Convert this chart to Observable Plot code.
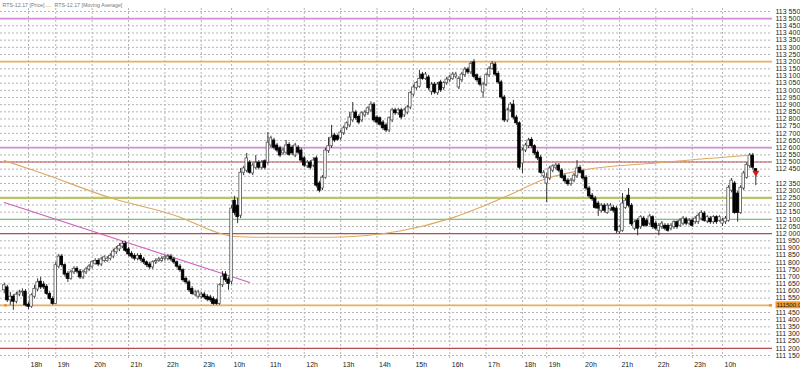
<!DOCTYPE html>
<html><head><meta charset="utf-8">
<script src="https://cdn.jsdelivr.net/npm/d3@7"></script>
<script src="https://cdn.jsdelivr.net/npm/@observablehq/plot@0.6"></script>
<style>body{margin:0;background:#fff}svg{display:block}</style>
</head><body><div id="chart"></div>
<script>
// ---- data: 5-minute candles, slot index 0..248 ----
const openP = [111605,111625,111535,111560,111525,111575,111590,111595,111505,111490,111560,111610,111665,111645,111630,111580,111545,111510,111770,111840,111780,111720,111685,111730,111755,111735,111695,111730,111750,111770,111790,111810,111785,111810,111810,111825,111840,111870,111890,111910,111930,111890,111860,111845,111825,111845,111820,111800,111785,111765,111800,111810,111810,111825,111825,111840,111820,111800,111770,111745,111685,111660,111615,111575,111560,111560,111575,111560,111555,111545,111535,111510,111640,111715,111680,111665,112230,112195,112125,112425,112440,112495,112420,112460,112495,112460,112505,112495,112615,112650,112615,112595,112560,112565,112620,112600,112545,112600,112580,112525,112470,112495,112475,112525,112350,112315,112390,112575,112610,112685,112680,112665,112700,112735,112755,112790,112845,112815,112790,112825,112840,112860,112900,112810,112805,112775,112755,112720,112790,112860,112840,112860,112825,112845,112880,112970,113015,113025,113110,113080,113090,112990,113040,112980,113055,113015,113050,113070,113080,113095,113020,113070,113105,113145,113125,113195,113105,113080,112985,113040,113105,113150,113180,113115,113055,112950,112790,112860,112900,112810,112770,112490,112580,112610,112655,112610,112565,112530,112400,112350,112385,112440,112460,112475,112440,112400,112370,112345,112370,112400,112460,112435,112390,112315,112265,112245,112210,112160,112195,112145,112170,112180,112175,112010,112020,112180,112265,112195,112035,112090,112045,112105,112090,112070,112115,112070,112020,112045,112055,112055,112035,112045,112080,112055,112070,112100,112070,112090,112080,112080,112105,112140,112085,112105,112080,112115,112090,112070,112080,112090,112300,112350,112280,112145,112315,112390,112470,112545,112450];
const highP = [111655,111640,111590,111575,111590,111605,111615,111610,111520,111580,111640,111685,111695,111665,111645,111595,111560,111800,111855,111855,111790,111735,111745,111770,111770,111750,111745,111765,111785,111810,111825,111825,111835,111845,111840,111860,111890,111910,111930,111945,111945,111905,111875,111860,111860,111860,111835,111810,111800,111810,111825,111835,111840,111845,111855,111855,111835,111810,111785,111755,111700,111675,111630,111605,111605,111590,111590,111575,111570,111560,111545,111650,111735,111735,111695,112195,112260,112245,112455,112470,112560,112510,112490,112545,112510,112510,112515,112705,112680,112665,112630,112610,112595,112650,112635,112615,112630,112615,112595,112540,112510,112510,112530,112540,112365,112405,112595,112670,112755,112700,112690,112720,112750,112780,112845,112915,112860,112830,112850,112860,112885,112920,112915,112825,112815,112790,112770,112815,112875,112875,112875,112875,112875,112895,112990,113035,113060,113140,113125,113125,113105,113055,113055,113055,113070,113060,113090,113105,113125,113125,113095,113125,113160,113160,113200,113215,113115,113095,113055,113115,113165,113200,113195,113130,113070,112965,112875,112915,112930,112825,112780,112595,112630,112665,112670,112620,112580,112545,112440,112420,112470,112480,112490,112490,112455,112415,112385,112385,112420,112510,112475,112445,112405,112330,112280,112260,112225,112210,112210,112210,112210,112195,112190,112055,112280,112245,112315,112210,112090,112105,112125,112120,112105,112135,112125,112085,112070,112085,112070,112070,112070,112090,112090,112105,112120,112115,112105,112105,112120,112140,112160,112155,112125,112120,112125,112125,112125,112105,112120,112335,112385,112365,112295,112335,112435,112495,112560,112560,112455];
const lowP = [111580,111520,111500,111465,111510,111560,111560,111490,111470,111480,111545,111595,111610,111610,111570,111535,111500,111505,111755,111765,111700,111660,111675,111715,111720,111680,111680,111715,111735,111755,111780,111770,111770,111800,111800,111810,111825,111855,111875,111895,111870,111840,111825,111810,111810,111805,111785,111765,111750,111750,111785,111800,111800,111810,111810,111805,111785,111755,111730,111660,111645,111590,111570,111560,111545,111545,111540,111525,111520,111500,111500,111500,111625,111660,111605,111645,112125,112070,112105,112405,112425,112415,112405,112445,112445,112445,112445,112480,112600,112585,112565,112530,112545,112550,112540,112545,112530,112550,112495,112460,112455,112445,112460,112320,112285,112300,112380,112560,112595,112635,112645,112650,112685,112720,112740,112775,112790,112760,112775,112810,112825,112845,112775,112760,112750,112720,112705,112705,112775,112825,112825,112795,112810,112830,112865,112955,113000,113015,113070,113070,113000,112965,112970,112965,112985,113000,113035,113055,113070,113080,113005,113055,113090,113110,113110,113080,113055,113025,112945,113025,113090,113140,113095,113040,112935,112775,112775,112845,112795,112755,112445,112420,112565,112595,112595,112545,112510,112415,112385,112215,112370,112425,112445,112425,112380,112350,112330,112330,112355,112385,112415,112370,112300,112245,112225,112170,112120,112145,112145,112135,112155,112145,112000,111995,112010,112170,112180,112050,112020,111985,112030,112045,112045,112055,112030,112020,111985,112030,112020,112010,112020,112030,112030,112045,112055,112055,112055,112045,112065,112065,112090,112080,112070,112065,112065,112065,112080,112050,112065,112080,112285,112135,112080,112135,112300,112380,112455,112445,112335];
const closeP = [111640,111535,111560,111525,111575,111590,111595,111500,111490,111570,111615,111660,111625,111625,111580,111545,111510,111780,111840,111780,111715,111685,111730,111755,111735,111695,111730,111750,111770,111800,111810,111785,111820,111835,111825,111845,111875,111895,111915,111930,111880,111855,111840,111825,111845,111820,111800,111780,111765,111800,111810,111820,111825,111835,111840,111820,111800,111770,111745,111675,111660,111605,111580,111590,111590,111575,111555,111540,111535,111510,111510,111640,111700,111675,111650,112175,112145,112115,112425,112455,112525,112425,112475,112495,112460,112495,112460,112635,112665,112600,112580,112545,112580,112615,112550,112560,112615,112565,112510,112475,112495,112460,112510,112335,112300,112390,112580,112610,112670,112650,112655,112705,112735,112770,112810,112845,112805,112775,112840,112845,112875,112900,112790,112775,112760,112735,112720,112805,112860,112840,112860,112810,112860,112880,112980,113020,113050,113080,113080,113110,113015,113040,112985,113040,113000,113050,113075,113090,113110,113110,113080,113110,113145,113125,113185,113095,113070,113040,113040,113105,113150,113185,113110,113055,112950,112790,112860,112900,112810,112770,112460,112580,112615,112650,112610,112560,112525,112425,112425,112390,112455,112470,112475,112440,112390,112365,112345,112370,112405,112455,112425,112385,112315,112260,112240,112180,112175,112195,112160,112195,112195,112160,112020,112045,112210,112230,112195,112065,112080,112035,112115,112055,112055,112120,112045,112035,112055,112070,112035,112020,112055,112080,112045,112090,112105,112070,112090,112055,112105,112125,112145,112090,112115,112080,112115,112080,112115,112090,112105,112320,112370,112145,112145,112320,112420,112480,112545,112460,112425];

// moving average, read at sparse points (slot, price)
const maSlot  = [0, 12, 35, 58, 70, 76, 85, 108, 131, 147, 164, 179, 190, 216, 245];
const maPrice = [112510,112425,112250,112115,112010,111980,111975,111975,112020,112105,112245,112385,112440,112495,112545];

// descending trend line (slot, price)
const trendSlot  = [0, 81];
const trendPrice = [112217, 111660];

// horizontal levels
const levels = [113500, 113200, 112600, 112500, 112250, 112100, 112000, 111500, 111200];
const levelKinds = ["violet","orange","violet","red","olive","green","red","orange","red"];

// hour ticks (slot of first candle in the hour) and labels
const hourSlots  = [8,17,29,41,53,65,75,87,99,111,123,135,147,159,171,179,191,203,215,227,237];
const hourLabels = ["18h","19h","20h","21h","22h","23h","10h","11h","12h","13h","14h","15h","16h","17h","18h","19h","20h","21h","22h","23h","10h"];

const lastSlot = 248;
const boxPrice = 111500;

// ---- styles ----
const kindStyle = {
  violet: {stroke: "#d28fd8", w: 1.6},
  orange: {stroke: "#eab060", w: 1.6},
  red:    {stroke: "#b85050", w: 1.2},
  olive:  {stroke: "#b9c46a", w: 2.2},
  green:  {stroke: "#6fcf6f", w: 1.2}
};

const candles = closeP.map((c, i) => ({i, o: openP[i], h: highP[i], l: lowP[i], c}));
const up = candles.filter(d => d.c >= d.o && d.i !== lastSlot);
const down = candles.filter(d => d.c < d.o || d.i === lastSlot);
const ma = maSlot.map((s, k) => ({s, v: maPrice[k]}));
const trend = trendSlot.map((s, k) => ({s, v: trendPrice[k]}));
const lv = levels.map((v, k) => ({v, ...kindStyle[levelKinds[k]]}));
const yTicks = d3.range(111150, 113551, 50);
const fmt = d => d3.format(",")(d).replace(/,/g, " ");
const labelOf = new Map(hourSlots.map((s, k) => [s, hourLabels[k]]));
const FONT = "'Liberation Sans Narrow', 'Liberation Sans', Arial, sans-serif";

const chart = Plot.plot({
  width: 800, height: 373,
  marginLeft: 0, marginRight: 28, marginTop: 8, marginBottom: 15,
  x: {domain: [-1.24, 253.5], axis: null},
  y: {domain: [111129.1, 113570.9], axis: null},
  style: {fontFamily: FONT, background: "#fff", overflow: "visible"},
  marks: [
    Plot.ruleY(yTicks, {stroke: "#b4b4b4", strokeDasharray: "2,2", strokeWidth: 1}),
    Plot.ruleX(hourSlots, {stroke: "#b4b4b4", strokeDasharray: "2,2", strokeWidth: 1}),
    ...lv.map(d => Plot.ruleY([d.v], {stroke: d.stroke, strokeWidth: d.w})),
    Plot.line(trend, {x: "s", y: "v", stroke: "#cf5fb5", strokeWidth: 1.1}),
    Plot.line(ma, {x: "s", y: "v", stroke: "#dca860", strokeWidth: 1.1, curve: "monotone-x"}),
    Plot.ruleX(candles, {x: "i", y1: "l", y2: "h", stroke: "#333", strokeWidth: 1}),
    Plot.rect(up, {x1: d => d.i - 0.42, x2: d => d.i + 0.42, y1: "o", y2: "c", fill: "#fff", stroke: "#555", strokeWidth: 0.8}),
    Plot.rect(down, {x1: d => d.i - 0.42, x2: d => d.i + 0.42, y1: "o", y2: "c", fill: "#000", stroke: "#000", strokeWidth: 0.8}),
    Plot.dot([candles[lastSlot]], {x: "i", y: "c", symbol: "triangle", rotate: 180, r: 2.6, fill: "#e01515"}),
    Plot.dot([boxPrice], {y: d => d, frameAnchor: "left", dx: 5, symbol: "square", r: 1.4, fill: "#f08a20"}),
    Plot.dot([boxPrice], {y: d => d, frameAnchor: "right", dx: -2, symbol: "square", r: 1.4, fill: "#f08a20"}),
    Plot.axisY({anchor: "right", ticks: yTicks.filter(t => t !== boxPrice && t !== 112400), tickSize: 0, tickPadding: 3, tickFormat: fmt, fontSize: 7, fill: "#222"}),
    Plot.axisX({ticks: hourSlots, tickSize: 0, tickPadding: 4, tickFormat: d => labelOf.get(d), textAnchor: "start", dx: 2, fontSize: 7, fill: "#222"}),
    Plot.text([boxPrice], {y: d => d, frameAnchor: "right", dx: 4, textAnchor: "start", text: d => d3.format(".1f")(d), fontSize: 6.2, fill: "#222", className: "pricebox"}),
    Plot.text(["RTS-12.17 [Price]"], {frameAnchor: "top-left", dx: 2, dy: -5, textAnchor: "start", text: d => d, fontSize: 5.3, fill: "#777"}),
    Plot.text(["—"], {frameAnchor: "top-left", dx: 45, dy: -5, textAnchor: "start", text: d => d, fontSize: 6, fill: "#eab060"}),
    Plot.text(["RTS-12.17 [Moving Average]"], {frameAnchor: "top-left", dx: 54, dy: -5, textAnchor: "start", text: d => d, fontSize: 5.3, fill: "#777"})
  ]
});
document.getElementById("chart").appendChild(chart);

// orange background box behind the price label
const t = chart.querySelector(".pricebox text");
if (t) {
  const b = t.getBBox();
  const r = document.createElementNS("http://www.w3.org/2000/svg", "rect");
  r.setAttribute("x", b.x - 1); r.setAttribute("y", b.y);
  r.setAttribute("width", 800); r.setAttribute("height", b.height);
  r.setAttribute("fill", "#f29a2e");
  const tr = t.getAttribute("transform");
  if (tr) r.setAttribute("transform", tr);
  t.parentNode.insertBefore(r, t);
}
</script></body></html>
